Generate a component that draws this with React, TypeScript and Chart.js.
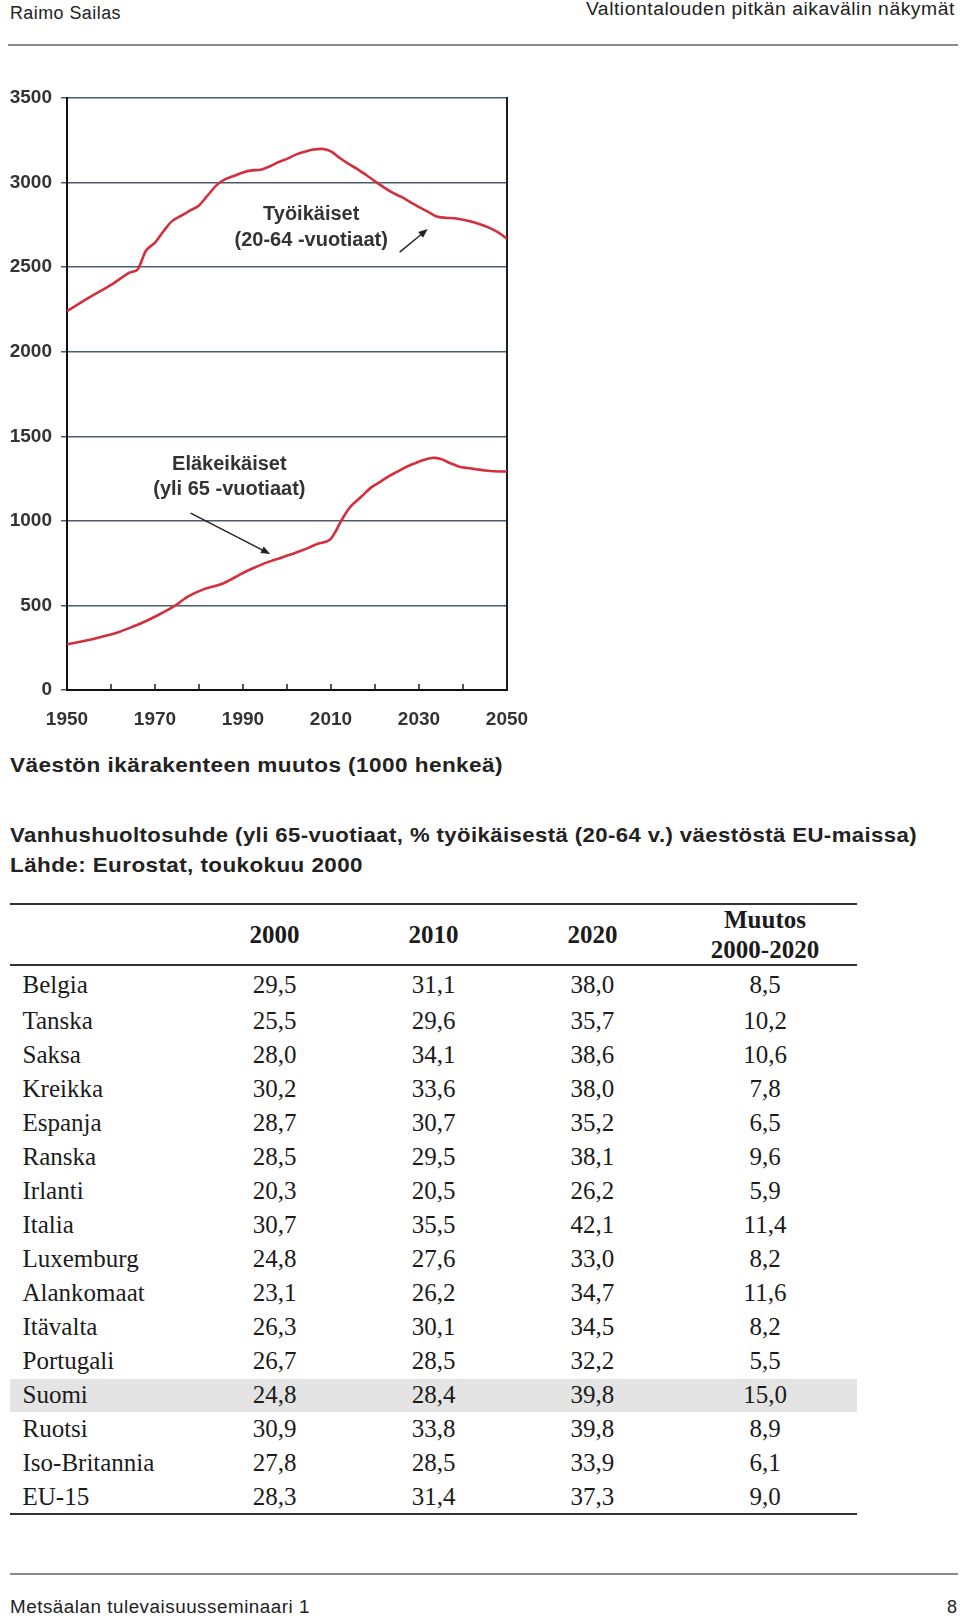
import React, { useEffect, useLayoutEffect, useRef } from "react";
import { Chart, registerables } from "chart.js";

Chart.register(...registerables);

// ---------- chart data (1000 persons) ----------
const workYears = [1950, 1955, 1960, 1964, 1966, 1968, 1970, 1972, 1974, 1976, 1978, 1980, 1982, 1984, 1986, 1988, 1990, 1992, 1994, 1996, 1998, 2000, 2002, 2004, 2006, 2008, 2010, 2012, 2014, 2016, 2018, 2020, 2022, 2024, 2026, 2028, 2030, 2032, 2034, 2036, 2038, 2040, 2042, 2044, 2046, 2048, 2050];
const workValues = [2240, 2320, 2395, 2465, 2485, 2600, 2645, 2715, 2775, 2805, 2835, 2865, 2925, 2985, 3020, 3040, 3060, 3072, 3076, 3095, 3120, 3140, 3165, 3182, 3195, 3199, 3185, 3145, 3110, 3080, 3045, 3008, 2972, 2940, 2915, 2885, 2855, 2828, 2800, 2792, 2789, 2780, 2768, 2752, 2732, 2705, 2668];

const elderYears = [1950, 1953, 1956, 1959, 1962, 1965, 1968, 1971, 1973, 1975, 1977, 1979, 1981, 1983, 1985, 1987, 1989, 1991, 1993, 1995, 1997, 1999, 2001, 2003, 2005, 2007, 2009, 2010, 2011, 2012, 2013, 2014, 2015, 2017, 2019, 2021, 2023, 2025, 2027, 2029, 2031, 2033, 2035, 2037, 2039, 2041, 2043, 2045, 2047, 2050];
const elderValues = [270, 285, 302, 322, 345, 375, 408, 447, 475, 506, 545, 573, 595, 610, 625, 650, 678, 705, 728, 750, 768, 785, 802, 822, 842, 865, 878, 895, 935, 985, 1030, 1070, 1100, 1145, 1195, 1227, 1262, 1290, 1318, 1340, 1360, 1372, 1365, 1342, 1322, 1312, 1305, 1298, 1293, 1292];

const workLabel = ["Työikäiset", "(20-64 -vuotiaat)"];
const elderLabel = ["Eläkeikäiset", "(yli 65 -vuotiaat)"];

// ---------- table data ----------
const tableYears = ["2000", "2010", "2020"];
const changeHeader = ["Muutos", "2000-2020"];
const countries = ["Belgia", "Tanska", "Saksa", "Kreikka", "Espanja", "Ranska", "Irlanti", "Italia", "Luxemburg", "Alankomaat", "Itävalta", "Portugali", "Suomi", "Ruotsi", "Iso-Britannia", "EU-15"];
const ratio2000 = [29.5, 25.5, 28.0, 30.2, 28.7, 28.5, 20.3, 30.7, 24.8, 23.1, 26.3, 26.7, 24.8, 30.9, 27.8, 28.3];
const ratio2010 = [31.1, 29.6, 34.1, 33.6, 30.7, 29.5, 20.5, 35.5, 27.6, 26.2, 30.1, 28.5, 28.4, 33.8, 28.5, 31.4];
const ratio2020 = [38.0, 35.7, 38.6, 38.0, 35.2, 38.1, 26.2, 42.1, 33.0, 34.7, 34.5, 32.2, 39.8, 39.8, 33.9, 37.3];
const change = [8.5, 10.2, 10.6, 7.8, 6.5, 9.6, 5.9, 11.4, 8.2, 11.6, 8.2, 5.5, 15.0, 8.9, 6.1, 9.0];
const highlighted = "Suomi";

const fmt = (v: number) => v.toFixed(1).replace(".", ",");

const SANS = '"Liberation Sans", Arial, Helvetica, sans-serif';
const SERIF = '"Liberation Serif", "Times New Roman", serif';

function FitText(props: { text: string; x: number; cy: number; width: number; align?: "left" | "right"; size: number; spacing?: number; weight?: number | string; color?: string }) {
  const ref = useRef<HTMLSpanElement>(null);
  useLayoutEffect(() => {
    const el = ref.current;
    if (!el) return;
    el.style.transform = "none";
    const w = el.getBoundingClientRect().width;
    const s = props.width / w;
    el.style.transform = `scaleX(${s})`;
  }, [props.text, props.width]);
  const lh = Math.round(props.size * 1.4);
  const style: React.CSSProperties = {
    position: "absolute",
    top: props.cy - lh / 2,
    lineHeight: lh + "px",
    fontSize: props.size,
    fontFamily: SANS,
    fontWeight: props.weight as any,
    color: props.color || "#222",
    whiteSpace: "nowrap",
  };
  if (props.align === "right") style.right = 960 - props.x;
  else style.left = props.x;
  return (
    <div style={style}>
      <span
        ref={ref}
        style={{
          display: "inline-block",
          letterSpacing: (props.spacing ?? 0) + "px",
          transformOrigin: props.align === "right" ? "right center" : "left center",
        }}
      >
        {props.text}
      </span>
    </div>
  );
}

function PopulationChart() {
  const canvasRef = useRef<HTMLCanvasElement>(null);
  useEffect(() => {
    const canvas = canvasRef.current;
    if (!canvas) return;

    const framePlugin = {
      id: "frame",
      beforeDatasetsDraw(chart: any) {
        const { ctx, chartArea: a, scales } = chart;
        const x = scales.x;
        ctx.save();
        ctx.strokeStyle = "#1e1e1e";
        ctx.lineWidth = 2;
        ctx.beginPath();
        ctx.moveTo(a.right, a.top - 1);
        ctx.lineTo(a.right, a.bottom);
        ctx.stroke();
        ctx.lineWidth = 1.5;
        for (const t of x.ticks) {
          if (t.value <= x.min) continue;
          const px = x.getPixelForValue(t.value);
          ctx.beginPath();
          ctx.moveTo(px, a.bottom);
          ctx.lineTo(px, a.bottom - 6);
          ctx.stroke();
        }
        ctx.restore();
      },
    };

    const labelPlugin = {
      id: "labels",
      afterDatasetsDraw(chart: any) {
        const { ctx, scales } = chart;
        const x = scales.x;
        const y = scales.y;
        const drawLabel = (lines: string[], cx: number, cys: number[]) => {
          ctx.save();
          ctx.font = `bold 20px ${SANS}`;
          ctx.fillStyle = "#333";
          ctx.textAlign = "center";
          ctx.textBaseline = "middle";
          lines.forEach((l, i) => ctx.fillText(l, x.getPixelForValue(cx), y.getPixelForValue(cys[i])));
          ctx.restore();
        };
        const drawArrow = (x0: number, y0: number, x1: number, y1: number) => {
          const ax = x.getPixelForValue(x0), ay = y.getPixelForValue(y0);
          const bx = x.getPixelForValue(x1), by = y.getPixelForValue(y1);
          const ang = Math.atan2(by - ay, bx - ax);
          const h = 10;
          ctx.save();
          ctx.strokeStyle = "#222";
          ctx.fillStyle = "#222";
          ctx.lineWidth = 1.4;
          ctx.beginPath();
          ctx.moveTo(ax, ay);
          ctx.lineTo(bx - Math.cos(ang) * h * 0.7, by - Math.sin(ang) * h * 0.7);
          ctx.stroke();
          ctx.beginPath();
          ctx.moveTo(bx, by);
          ctx.lineTo(bx - h * Math.cos(ang - 0.38), by - h * Math.sin(ang - 0.38));
          ctx.lineTo(bx - h * Math.cos(ang + 0.38), by - h * Math.sin(ang + 0.38));
          ctx.closePath();
          ctx.fill();
          ctx.restore();
        };
        drawLabel(workLabel, 2005.5, [2809, 2657]);
        drawArrow(2025.6, 2589, 2032, 2725);
        drawLabel(elderLabel, 1986.9, [1333, 1188]);
        drawArrow(1978.1, 1046, 1996.2, 804);
      },
    };

    const tickFont = { family: SANS, size: 19, weight: "bold" as const };
    const chart = new Chart(canvas, {
      type: "line",
      data: {
        datasets: [
          {
            data: workYears.map((yr, i) => ({ x: yr, y: workValues[i] })),
            borderColor: "#d32f3c",
            borderWidth: 2.6,
            pointRadius: 0,
            tension: 0.3,
            fill: false,
          },
          {
            data: elderYears.map((yr, i) => ({ x: yr, y: elderValues[i] })),
            borderColor: "#d32f3c",
            borderWidth: 2.6,
            pointRadius: 0,
            tension: 0.3,
            fill: false,
          },
        ],
      },
      options: {
        animation: false,
        responsive: false,
        devicePixelRatio: 1,
        layout: { padding: { top: 98, right: 33, left: 0, bottom: 0 } },
        plugins: { legend: { display: false }, tooltip: { enabled: false } },
        scales: {
          x: {
            type: "linear",
            min: 1950,
            max: 2050,
            afterFit: (s: any) => {
              s.height = 50;
              s.paddingLeft = 0;
              s.paddingRight = 0;
            },
            grid: { display: false, drawTicks: false },
            border: { display: true, color: "#111", width: 2 },
            ticks: {
              stepSize: 10,
              autoSkip: false,
              maxRotation: 0,
              padding: 18,
              color: "#333",
              font: tickFont,
              callback: (v: any) => ((Number(v) - 1950) % 20 === 0 ? String(v) : ""),
            },
          },
          y: {
            min: 0,
            max: 3500,
            afterFit: (s: any) => {
              s.width = 67;
              s.paddingTop = 0;
              s.paddingBottom = 0;
            },
            grid: { color: "#4a5d6d", lineWidth: 1.5, drawTicks: true, tickLength: 6 },
            border: { display: true, color: "#111", width: 2 },
            ticks: {
              stepSize: 500,
              padding: 9,
              color: "#333",
              font: tickFont,
              callback: (v: any) => String(v),
            },
          },
        },
      },
      plugins: [framePlugin, labelPlugin],
    } as any);
    return () => chart.destroy();
  }, []);
  return (
    <canvas
      ref={canvasRef}
      width={540}
      height={740}
      style={{ position: "absolute", left: 0, top: 0, width: 540, height: 740 }}
    />
  );
}

export default function App() {
  const colX = [274.5, 433.5, 592.4, 765];
  const rowCenter = (i: number) => (i === 0 ? 984.5 : 1020.6 + (i - 1) * 34.06);
  const cell = (text: string, cx: number, cy: number, bold = false) => (
    <div
      key={text + cx + cy}
      style={{
        position: "absolute",
        left: cx - 80,
        width: 160,
        top: cy - 17,
        lineHeight: "34px",
        textAlign: "center",
        fontFamily: SERIF,
        fontSize: 25,
        fontWeight: bold ? "bold" : "normal",
        color: "#1b1b1b",
        whiteSpace: "nowrap",
      }}
    >
      {text}
    </div>
  );
  const rule = (y: number, x0: number, x1: number, color: string, h = 2) => (
    <div style={{ position: "absolute", left: x0, top: y - h / 2, width: x1 - x0, height: h, background: color }} />
  );

  return (
    <div style={{ position: "absolute", left: 0, top: 0, width: 960, height: 1619, overflow: "hidden", background: "#fff" }}>
      {/* page header */}
      <FitText text="Raimo Sailas" x={10} cy={13} width={111} size={18} spacing={0.5} />
      <FitText text="Valtiontalouden pitkän aikavälin näkymät" x={955} cy={9} width={369} size={18} spacing={0.5} align="right" />
      {rule(44.5, 8, 958, "#8a8a8a", 2)}

      <PopulationChart />

      {/* captions */}
      <FitText text="Väestön ikärakenteen muutos (1000 henkeä)" x={10} cy={764} width={493} size={21} spacing={0.4} weight="bold" />
      <FitText text="Vanhushuoltosuhde (yli 65-vuotiaat, % työikäisestä (20-64 v.) väestöstä EU-maissa)" x={10} cy={834} width={907} size={21} spacing={0.4} weight="bold" />
      <FitText text="Lähde: Eurostat, toukokuu 2000" x={10} cy={864} width={353} size={21} spacing={0.4} weight="bold" />

      {/* table */}
      {rule(904, 10, 857, "#333", 2)}
      {tableYears.map((y, i) => cell(y, colX[i], 935, true))}
      {cell(changeHeader[0], colX[3], 919.5, true)}
      {cell(changeHeader[1], colX[3], 949.5, true)}
      {rule(965, 10, 857, "#333", 2)}
      {countries.map((c, i) =>
        c === highlighted ? (
          <div key={"hl" + c} style={{ position: "absolute", left: 10, width: 847, top: rowCenter(i) - 16.5, height: 33, background: "#e4e4e4" }} />
        ) : null
      )}
      {countries.map((c, i) => (
        <div
          key={c}
          style={{
            position: "absolute",
            left: 22.5,
            top: rowCenter(i) - 17,
            lineHeight: "34px",
            fontFamily: SERIF,
            fontSize: 25,
            color: "#1b1b1b",
            whiteSpace: "nowrap",
          }}
        >
          {c}
        </div>
      ))}
      {countries.map((_, i) => cell(fmt(ratio2000[i]), colX[0], rowCenter(i)))}
      {countries.map((_, i) => cell(fmt(ratio2010[i]), colX[1], rowCenter(i)))}
      {countries.map((_, i) => cell(fmt(ratio2020[i]), colX[2], rowCenter(i)))}
      {countries.map((_, i) => cell(fmt(change[i]), colX[3], rowCenter(i)))}
      {rule(1514, 10, 857, "#333", 2)}

      {/* footer */}
      {rule(1574, 10, 958, "#8a8a8a", 2)}
      <FitText text="Metsäalan tulevaisuusseminaari 1" x={10} cy={1607} width={300} size={18} spacing={0.5} />
      <FitText text="8" x={957} cy={1607} width={10} size={18} align="right" />
    </div>
  );
}
